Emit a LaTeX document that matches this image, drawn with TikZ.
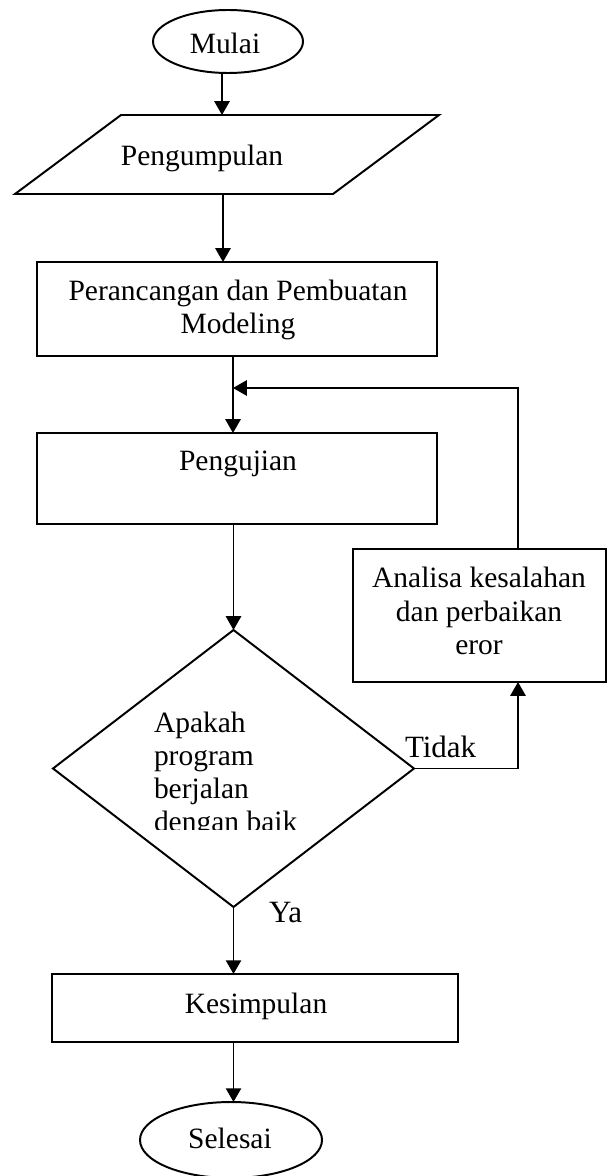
\documentclass[tikz,border=0pt]{standalone}
\usepackage{fontspec}
\setmainfont{Liberation Serif}
\usetikzlibrary{arrows.meta,shapes.geometric}
\begin{document}
\begin{tikzpicture}[x=0.407pt,y=-0.407pt,
  every node/.style={inner sep=0pt, outer sep=0pt},
  ln/.style={line width=0.75pt},
  arr/.style={ln,-{Triangle[length=5.6pt,width=6.2pt]}},
  txt/.style={font=\fontsize{12}{14}\selectfont, anchor=base},
  lbl/.style={font=\fontsize{12.6}{15}\selectfont, anchor=base west},
  shp/.style={draw, line width=0.8pt},
]
\useasboundingbox (0,0) rectangle (613,1176);

% start
\node[shp, ellipse, minimum width=150*0.407pt, minimum height=63*0.407pt] (mulai) at (228,41.5) {};
\node[txt] (tmulai) at (225,54) {Mulai};

% parallelogram
\coordinate (pgin) at (222,115);
\coordinate (pgout) at (223,194);
\draw[shp] (121,115) -- (439,115) -- (333,194) -- (15,194) -- cycle;
\node[txt] (tpeng) at (202,166) {Pengumpulan};

% rect 1
\node[shp, rectangle, minimum width=400*0.407pt, minimum height=94*0.407pt] (r1) at (237,309) {};
\node[txt] (t1a) at (238,300) {Perancangan dan Pembuatan};
\node[txt] (t1b) at (238,333) {Modeling};

% rect 2
\node[shp, rectangle, minimum width=400*0.407pt, minimum height=91*0.407pt] (r2) at (237,478.5) {};
\node[txt] (t2) at (238,470) {Pengujian};

% analisa box
\node[shp, rectangle, minimum width=253*0.407pt, minimum height=133*0.407pt] (r3) at (479.5,615.5) {};
\node[txt] (t3a) at (479,587) {Analisa kesalahan};
\node[txt] (t3b) at (479,621) {dan perbaikan};
\node[txt] (t3c) at (479,654) {eror};

% decision
\node[shp, diamond, minimum width=361*0.407pt, minimum height=277*0.407pt] (d) at (233.5,768.5) {};
\begin{scope}
\clip (120,690) rectangle (400,829);
\node[txt, anchor=base west] (q1) at (154,732) {Apakah};
\node[txt, anchor=base west] (q2) at (154,765) {program};
\node[txt, anchor=base west] (q3) at (154,798) {berjalan};
\node[txt, anchor=base west] (q4) at (154,831) {dengan baik};
\end{scope}
\node[lbl] (tidak) at (405,757) {Tidak};
\node[lbl] (ya) at (269,922) {Ya};

% kesimpulan
\node[shp, rectangle, minimum width=406*0.407pt, minimum height=68*0.407pt] (r4) at (255,1008) {};
\node[txt] (t4) at (256,1013) {Kesimpulan};

% end
\node[shp, ellipse, minimum width=182*0.407pt, minimum height=76*0.407pt] (selesai) at (231,1140) {};
\node[txt] (tsel) at (230,1148) {Selesai};

% connectors
\coordinate (j1) at (233,388);
\coordinate (fb) at (518,388);
\draw[arr] (mulai.south -| pgin) -- (pgin);
\draw[arr] (pgout) -- (pgout |- r1.north);
\draw[arr] (r1.south -| j1) -- (r2.north -| j1);
\draw[arr] (r3.north -| fb) -- (fb) -- (j1);
\draw[arr] (r2.south -| d.north) -- (d.north);
\draw[arr] (d.east) -| (r3.south -| fb);
\draw[arr] (d.south) -- (d.south |- r4.north);
\draw[arr] (r4.south -| d.south) -- (selesai.north -| d.south);
\end{tikzpicture}
\end{document}
